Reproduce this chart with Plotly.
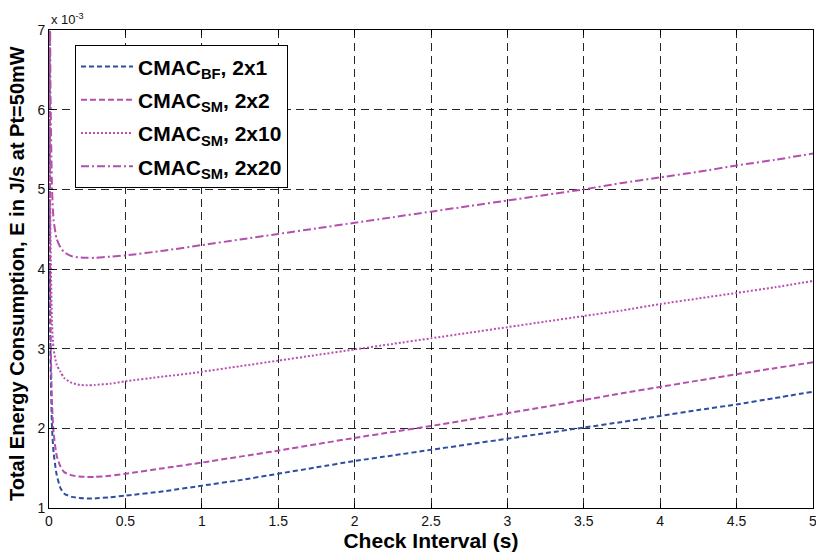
import plotly.graph_objects as go

# Check interval (s)
x_vals = [0.002, 0.005, 0.01, 0.02, 0.03, 0.05, 0.075, 0.1, 0.15, 0.2, 0.25, 0.3, 0.4, 0.5,
          0.75, 1.0, 1.25, 1.5, 1.75, 2.0, 2.25, 2.5, 2.75, 3.0, 3.25, 3.5, 3.75, 4.0,
          4.25, 4.5, 4.75, 5.0]

# Energy in units of 1e-3 J/s
e_bf_2x1 = [9.9, 4.5, 2.9, 2.0, 1.7, 1.42, 1.25, 1.18, 1.14, 1.125, 1.12, 1.12, 1.135, 1.155,
            1.21, 1.28, 1.35, 1.43, 1.51, 1.59, 1.66, 1.73, 1.80, 1.87, 1.94, 2.01, 2.08, 2.155,
            2.23, 2.30, 2.38, 2.46]
e_sm_2x2 = [10.5, 5.0, 3.2, 2.3, 1.95, 1.66, 1.52, 1.45, 1.41, 1.395, 1.39, 1.39, 1.405, 1.43,
            1.50, 1.57, 1.645, 1.72, 1.80, 1.88, 1.955, 2.03, 2.11, 2.19, 2.27, 2.355, 2.44, 2.52,
            2.60, 2.68, 2.755, 2.83]
e_sm_2x10 = [12.0, 6.3, 4.4, 3.3, 3.0, 2.8, 2.71, 2.63, 2.57, 2.545, 2.54, 2.545, 2.56, 2.59,
             2.65, 2.71, 2.78, 2.85, 2.92, 2.99, 3.06, 3.13, 3.20, 3.27, 3.34, 3.41, 3.48, 3.56,
             3.63, 3.70, 3.77, 3.85]
e_sm_2x20 = [14.0, 8.5, 6.2, 5.0, 4.62, 4.38, 4.27, 4.21, 4.16, 4.145, 4.14, 4.14, 4.155, 4.17,
             4.23, 4.30, 4.37, 4.44, 4.51, 4.58, 4.65, 4.72, 4.79, 4.86, 4.93, 5.0, 5.08, 5.15,
             5.22, 5.30, 5.37, 5.45]

series_names = ["<b>CMAC<sub>BF</sub>, 2x1</b>", "<b>CMAC<sub>SM</sub>, 2x2</b>",
                "<b>CMAC<sub>SM</sub>, 2x10</b>", "<b>CMAC<sub>SM</sub>, 2x20</b>"]
series_vals = [e_bf_2x1, e_sm_2x2, e_sm_2x10, e_sm_2x20]
series_colors = ["#2f4ea3", "#b44fae", "#b84fb2", "#b44fae"]
series_dash = ["5px,3px", "6px,3px", "2px,2px", "8px,3px,2px,3px"]

x_ticks = [0, 0.5, 1, 1.5, 2, 2.5, 3, 3.5, 4, 4.5, 5]
x_ticklabels = ["0", "0.5", "1", "1.5", "2", "2.5", "3", "3.5", "4", "4.5", "5"]
y_ticks = [1, 2, 3, 4, 5, 6, 7]
y_ticklabels = ["1", "2", "3", "4", "5", "6", "7"]

FONT = "Liberation Sans, Arial, Helvetica, sans-serif"

fig = go.Figure()
for i, (name, vals, col, dash) in enumerate(zip(series_names, series_vals, series_colors, series_dash)):
    fig.add_trace(go.Scatter(
        x=x_vals, y=vals, mode="lines", name=name,
        line=dict(color=col, width=2, dash=dash, shape="spline", smoothing=0.6),
        legendgroup=f"g{i}",
    ))

axis_common = dict(
    showline=True, linecolor="black", linewidth=1, mirror="ticks",
    ticks="inside", ticklen=5, tickcolor="black",
    showgrid=True, gridcolor="rgba(0,0,0,0.85)", gridwidth=1, griddash="8px,5px",
    zeroline=False, automargin=False, ticklabeloverflow="allow",
    tickfont=dict(family=FONT, size=14, color="#111"),
)

fig.update_xaxes(
    range=[0, 5], tickvals=x_ticks, ticktext=x_ticklabels,
    title=dict(text="<b>Check Interval (s)</b>", font=dict(family=FONT, size=21, color="black"), standoff=0),
    **axis_common,
)
fig.update_yaxes(
    range=[1, 7], tickvals=y_ticks, ticktext=y_ticklabels,
    **axis_common,
)

# y-axis title placed precisely
fig.add_annotation(
    xref="paper", yref="paper", x=0, y=0.5, xanchor="center", yanchor="middle",
    xshift=-32, yshift=-5, textangle=-90, showarrow=False,
    text="<b>Total Energy Consumption, E in J/s at Pt=50mW</b>",
    font=dict(family=FONT, size=20, color="black"),
)

fig.add_annotation(
    xref="paper", yref="paper", x=0, y=1, xanchor="left", yanchor="bottom",
    text="x 10<sup>-3</sup>", showarrow=False, yshift=1, xshift=0,
    font=dict(family=FONT, size=13, color="#111"),
)

fig.update_layout(
    width=816, height=555,
    margin=dict(l=49, r=3, t=30, b=47),
    paper_bgcolor="white", plot_bgcolor="white",
    showlegend=True,
    legend=dict(
        x=0.034, y=0.968, xanchor="left", yanchor="top",
        bgcolor="white", bordercolor="black", borderwidth=1,
        font=dict(family=FONT, size=21, color="black"),
        tracegroupgap=3, itemwidth=52,
    ),
)

fig.write_html(
    "out.html",
    config={"displayModeBar": False},
    post_script="document.body.style.margin='0';document.body.style.overflow='hidden';",
)
